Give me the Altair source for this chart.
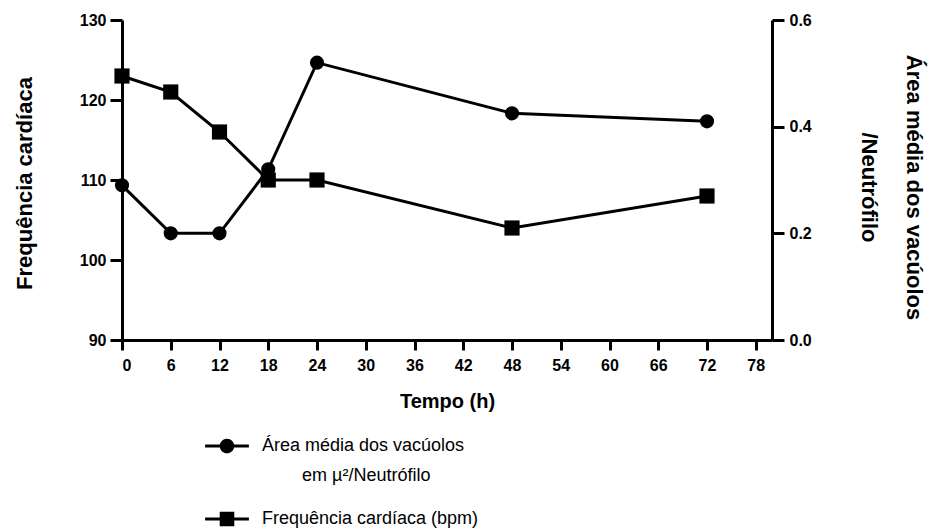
import altair as alt
import pandas as pd

# ---- data ----
tempo = [0, 6, 12, 18, 24, 48, 72]
freq_cardiaca = [123, 121, 116, 110, 110, 104, 108]
area_vacuolos = [0.29, 0.20, 0.20, 0.32, 0.52, 0.425, 0.41]

serie_area = "Área média dos vacúolos em µ²/Neutrófilo"
serie_freq = "Frequência cardíaca (bpm)"
series = [serie_area, serie_freq]

x_ticks = [0, 6, 12, 18, 24, 30, 36, 42, 48, 54, 60, 66, 72, 78]
y_left_ticks = [90, 100, 110, 120, 130]
y_right_ticks = [0.0, 0.2, 0.4, 0.6]

df_freq = pd.DataFrame({"t": tempo, "v": freq_cardiaca, "serie": serie_freq})
df_area = pd.DataFrame({"t": tempo, "v": area_vacuolos, "serie": serie_area})
df_leg = pd.DataFrame({"serie": series})

FONT = "Liberation Sans"

x_enc = alt.X(
    "t:Q",
    scale=alt.Scale(domain=[0, 80], nice=False, zero=False),
    axis=alt.Axis(
        values=x_ticks, title="Tempo (h)", orient="bottom",
        tickSize=10, labelPadding=7, labelFontSize=16, labelFontWeight="bold",
        titleFontSize=20, titleFontWeight="bold", titleBaseline="alphabetic",
        titleY=67,
    ),
)

y_left = alt.Y(
    "v:Q",
    scale=alt.Scale(domain=[90, 130], nice=False, zero=False),
    axis=alt.Axis(
        orient="left", values=y_left_ticks, title="Frequência cardíaca",
        tickSize=12, labelPadding=4, labelFontSize=16, labelFontWeight="bold",
        titleFontSize=22, titleFontWeight="bold", titleAngle=270,
        titleBaseline="alphabetic", titleX=-91, titleY=163,
    ),
)

y_right = alt.Y(
    "v:Q",
    scale=alt.Scale(domain=[0, 0.6], nice=False),
    axis=alt.Axis(
        orient="right", values=y_right_ticks, format=".1f",
        title=["Área média dos vacúolos", "/Neutrófilo"],
        tickSize=12, labelPadding=5, labelFontSize=16, labelFontWeight="bold",
        titleFontSize=22, titleFontWeight="bold", titleAngle=90,
        titleBaseline="alphabetic", titleX=134, titleY=167, titleLineHeight=45,
        titleAlign="center",
    ),
)

area_layer = alt.layer(
    alt.Chart(df_area).mark_line(color="black", strokeWidth=3).encode(x=x_enc, y=y_right),
    alt.Chart(df_area).mark_point(filled=True, color="black", shape="circle",
                                  size=200, opacity=1).encode(x=x_enc, y=y_right),
)

freq_layer = alt.layer(
    alt.Chart(df_freq).mark_line(color="black", strokeWidth=3).encode(x=x_enc, y=y_left),
    alt.Chart(df_freq).mark_point(filled=True, color="black", shape="square",
                                  size=230, opacity=1).encode(x=x_enc, y=y_left),
)

# legend symbols: line with marker in the middle (custom SVG paths)
path_circle = "M-3,-0.22H3V0.22H-3Z M-1,0A1,1,0,1,1,1,0A1,1,0,1,1,-1,0Z"
path_square = "M-3,-0.22H3V0.22H-3Z M-1,-1H1V1H-1Z"

indent = "\u200b" + "\u00a0" * 8
label_expr = (
    "datum.value == '" + serie_area + "' ? "
    "['Área média dos vacúolos', '" + indent + "em µ²/Neutrófilo'] : datum.label"
)

legend_layer = (
    alt.Chart(df_leg)
    .transform_filter("datum.serie == 'none'")
    .mark_point(filled=True, color="black", opacity=1)
    .encode(
        shape=alt.Shape(
            "serie:N",
            scale=alt.Scale(domain=series, range=[path_circle, path_square]),
            legend=alt.Legend(
                title=None, orient="none", legendX=96, legendY=417,
                direction="vertical", padding=0,
                symbolSize=213, symbolFillColor="black", symbolStrokeWidth=0,
                symbolOpacity=1,
                labelFont=FONT, labelFontSize=18, labelColor="black",
                labelOffset=26, labelLimit=0, rowPadding=25,
                labelExpr=label_expr,
            ),
        )
    )
)

chart = (
    alt.layer(area_layer, freq_layer, legend_layer)
    .resolve_scale(y="independent")
    .properties(
        width=650, height=320,
        padding={"left": 122, "top": 20, "right": 157, "bottom": 192},
        autosize=alt.AutoSizeParams(type="none"),
        background="white",
    )
    .configure(font=FONT, style={"guide-label": {"lineHeight": 30}})
    .configure_view(stroke=None)
    .configure_axis(
        grid=False, domainColor="black", domainWidth=3, tickColor="black",
        tickWidth=3, labelColor="black", titleColor="black", labelFont=FONT,
        titleFont=FONT,
    )
)

chart.save("out.html", embed_options={"renderer": "svg", "actions": False})
